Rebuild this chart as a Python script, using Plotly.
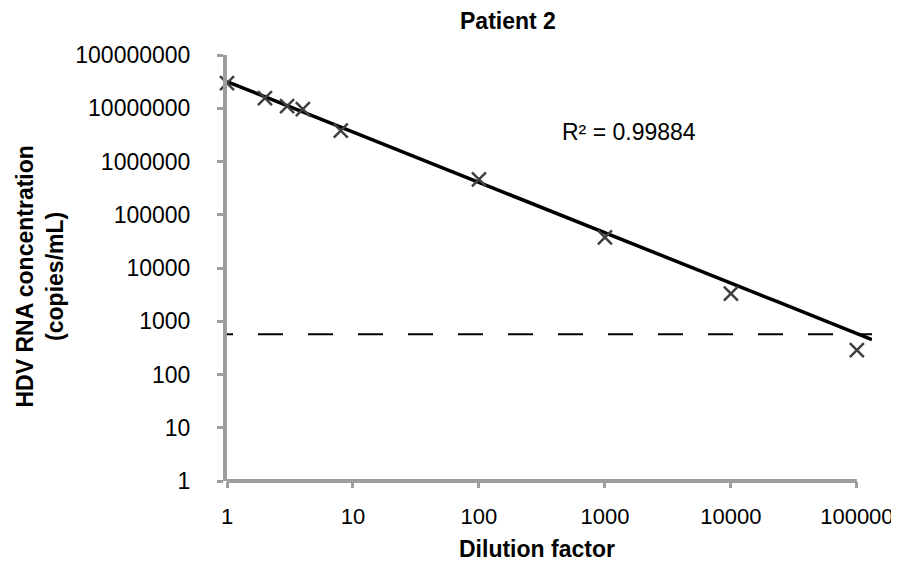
import numpy as np
import plotly.graph_objects as go

# ---- data ----
dilution = [1, 2, 3, 4, 8, 100, 1000, 10000, 100000]
concentration = [2.95e7, 1.55e7, 1.1e7, 9.6e6, 3.8e6, 4.6e5, 3.76e4, 3.3e3, 286]

# power trend line y = a * x^b
trend_a = 10 ** 7.50
trend_b = -0.946
trend_x_end = 10 ** 5.12

detection_limit = 570

x_tickvals = [1, 10, 100, 1000, 10000, 100000]
x_ticktext = ["1", "10", "100", "1000", "10000", "100000"]
y_tickvals = [1, 10, 100, 1000, 10000, 100000, 1000000, 10000000, 100000000]
y_ticktext = ["1", "10", "100", "1000", "10000", "100000", "1000000", "10000000", "100000000"]

r2_text = "R² = 0.99884"
title_text = "<b>Patient 2</b>"
x_title = "<b>Dilution factor</b>"
y_title = "<b>HDV RNA concentration<br>(copies/mL)</b>"

FONT = "Liberation Sans, Arial, sans-serif"
AXIS_GRAY = "#9e9e9e"

trend_x = np.logspace(0, np.log10(trend_x_end), 200)
trend_y = trend_a * trend_x ** trend_b

fig = go.Figure()

fig.add_trace(go.Scatter(
    x=trend_x, y=trend_y, mode="lines",
    line=dict(color="black", width=3.5), showlegend=False, hoverinfo="skip"))

fig.add_trace(go.Scatter(
    x=[1, trend_x_end], y=[detection_limit, detection_limit], mode="lines",
    line=dict(color="black", width=2, dash="6px,25px,19px,0px"),
    showlegend=False, hoverinfo="skip"))

fig.add_trace(go.Scatter(
    x=dilution, y=concentration, mode="markers",
    marker=dict(symbol="x-thin-open", size=14,
                line=dict(color="#404040", width=2.5), color="#404040"),
    showlegend=False, cliponaxis=False))

# the page has an 8px body margin, so the figure is sized/offset to fit the window
fig.update_layout(
    width=891, height=553,
    margin=dict(l=219, r=27, t=47, b=80, pad=0, autoexpand=False),
    paper_bgcolor="white", plot_bgcolor="white",
    font=dict(family=FONT, size=23, color="black"),
    showlegend=False,
)

fig.update_xaxes(
    type="log", range=[0, np.log10(trend_x_end)], automargin=False,
    tickvals=x_tickvals, ticktext=x_ticktext,
    showgrid=False, zeroline=False, showline=False,
    ticks="outside", ticklen=6, tickwidth=3, tickcolor=AXIS_GRAY,
    tickfont=dict(family=FONT, size=22, color="black"),
    ticklabelstandoff=10,
)
fig.update_yaxes(
    type="log", range=[0, 8], automargin=False,
    tickvals=y_tickvals, ticktext=y_ticktext,
    showgrid=False, zeroline=False, showline=True, linecolor=AXIS_GRAY, linewidth=4,
    ticks="outside", ticklen=6, tickwidth=3, tickcolor=AXIS_GRAY,
    tickfont=dict(family=FONT, size=23, color="black"),
    ticklabelstandoff=22,
)

# x axis line spanning only 1 .. 100000
fig.add_shape(type="line", xref="x", yref="paper",
              x0=x_tickvals[0], x1=x_tickvals[-1], y0=0, y1=0,
              line=dict(color=AXIS_GRAY, width=4), layer="above")

fig.add_annotation(text=title_text, xref="paper", yref="paper",
                   x=0.4357, y=1.0798, xanchor="center", yanchor="middle",
                   showarrow=False, font=dict(family=FONT, size=23, color="black"))
fig.add_annotation(text=x_title, xref="paper", yref="paper",
                   x=0.4806, y=-0.1596, xanchor="center", yanchor="middle",
                   showarrow=False, font=dict(family=FONT, size=23, color="black"))
fig.add_annotation(text=y_title, xref="paper", yref="paper",
                   x=-0.2899, y=0.480, xanchor="center", yanchor="middle",
                   textangle=-90, showarrow=False,
                   font=dict(family=FONT, size=23, color="black"))
fig.add_annotation(text=r2_text, xref="paper", yref="paper",
                   x=0.517, y=0.8204, xanchor="left", yanchor="middle",
                   showarrow=False, font=dict(family=FONT, size=23, color="black"))

fig.write_html("out.html")
